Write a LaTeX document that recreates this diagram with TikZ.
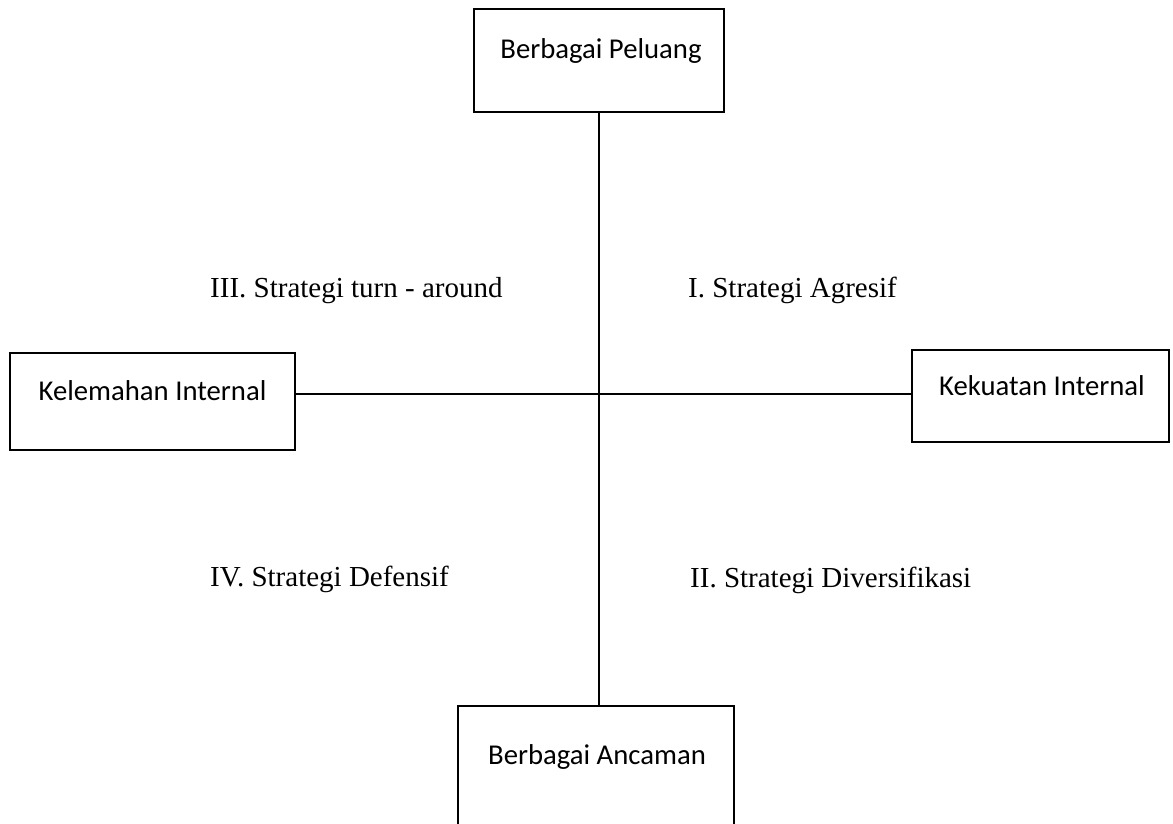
\documentclass[tikz,border=0pt]{standalone}
\usepackage{fontspec}
\newfontfamily\boxfont{Carlito}
\newfontfamily\labfont{Liberation Serif}
\begin{document}
\begin{tikzpicture}[x=1pt,y=-1pt,
  box/.style={draw=black, line width=2.5pt, rectangle, inner sep=0pt, outer sep=0pt, fill=white},
  boxtext/.style={anchor=base, inner sep=0pt, font=\boxfont\fontsize{28.7}{34}\selectfont},
  quad/.style={anchor=base west, inner sep=0pt, font=\labfont\fontsize{29}{34}\selectfont},
  axis/.style={draw=black, line width=2pt}]
\useasboundingbox (0,0) rectangle (1173,823);
\clip (0,0) rectangle (1173,823);
\fill[white] (0,0) rectangle (1173,823);
% boxes
\node[box, minimum width=250pt, minimum height=103pt] (peluang) at (599,60.5) {};
\node[box, minimum width=285pt, minimum height=97pt] (kelemahan) at (152.5,401.5) {};
\node[box, minimum width=257pt, minimum height=92pt] (kekuatan) at (1040.5,396) {};
\node[box, minimum width=276pt, minimum height=140pt] (ancaman) at (596,776) {};
% axes
\draw[axis] (peluang.south -| 598.5,0) coordinate (vtop) -- (ancaman.north -| 598.5,0);
\draw[axis] (kelemahan.east |- 0,394) -- (kekuatan.west |- 0,394);
% box texts
\node[boxtext] (peluangT) at (601,58) {Berbagai Peluang};
\node[boxtext] (kelemahanT) at (152.5,400) {Kelemahan Internal};
\node[boxtext] (kekuatanT) at (1042,395) {Kekuatan Internal};
\node[boxtext] (ancamanT) at (597,764) {Berbagai Ancaman};
% quadrant labels
\node[quad] (q3) at (210,297) {III. Strategi turn - around};
\node[quad] (q1) at (688,297) {I. Strategi Agresif};
\node[quad] (q4) at (210,586) {IV. Strategi Defensif};
\node[quad] (q2) at (690,587) {II. Strategi Diversifikasi};
\end{tikzpicture}
\end{document}
